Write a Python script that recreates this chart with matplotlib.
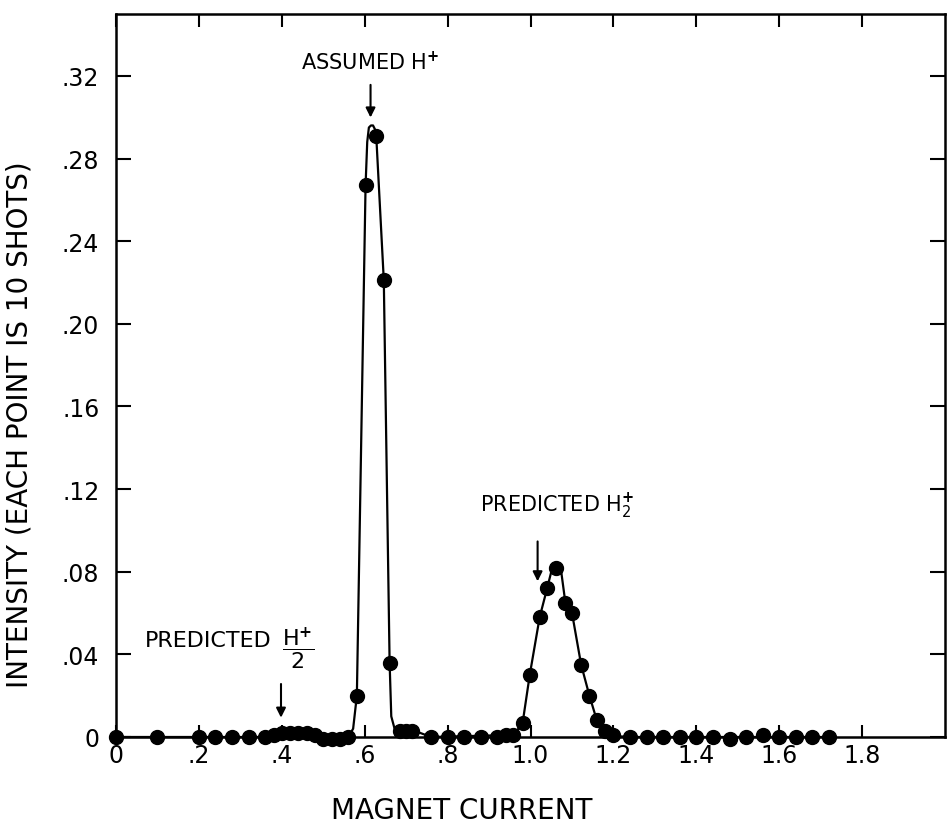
import matplotlib
matplotlib.use("Agg")
import matplotlib.pyplot as plt

# measured points (magnet current, intensity)
pts_x = [0.0, 0.10, 0.20, 0.24, 0.28, 0.32, 0.36, 0.38, 0.40, 0.42, 0.44, 0.46,
         0.48, 0.50, 0.52, 0.54, 0.56, 0.581, 0.602, 0.627, 0.646, 0.660,
         0.684, 0.700, 0.713, 0.76, 0.80, 0.84, 0.88, 0.92, 0.94, 0.957,
         0.981, 0.998, 1.022, 1.040, 1.062, 1.084, 1.100, 1.122, 1.142,
         1.160, 1.180, 1.198, 1.24, 1.28, 1.32, 1.36, 1.40, 1.44, 1.48,
         1.52, 1.56, 1.60, 1.64, 1.68, 1.72]
pts_y = [0.0, 0.0, 0.0, 0.0, 0.0, 0.0, 0.0, 0.001, 0.002, 0.002, 0.002, 0.002,
         0.001, -0.001, -0.001, -0.001, 0.0, 0.020, 0.267, 0.291, 0.221, 0.036,
         0.003, 0.003, 0.003, 0.0, 0.0, 0.0, 0.0, 0.0, 0.001, 0.001,
         0.007, 0.030, 0.058, 0.072, 0.082, 0.065, 0.060, 0.035, 0.020,
         0.008, 0.003, 0.001, 0.0, 0.0, 0.0, 0.0, 0.0, 0.0, -0.001,
         0.0, 0.001, 0.0, 0.0, 0.0, 0.0]

# hand drawn curve through the points
curve_x = [0.0, 0.36, 0.40, 0.48, 0.50, 0.56, 0.572, 0.581, 0.602, 0.606,
           0.610, 0.615, 0.620, 0.625, 0.628, 0.646, 0.660, 0.664, 0.672,
           0.72, 0.76, 0.96, 0.981, 0.998, 1.022, 1.040, 1.050, 1.058,
           1.068, 1.074, 1.084, 1.100, 1.122, 1.142, 1.160, 1.180, 1.200,
           1.24, 1.72]
curve_y = [0.0, 0.0, 0.002, 0.001, -0.001, 0.0, 0.004, 0.020, 0.267, 0.288,
           0.295, 0.296, 0.296, 0.294, 0.290, 0.221, 0.036, 0.010, 0.004,
           0.003, 0.0, 0.001, 0.007, 0.030, 0.058, 0.072, 0.080, 0.0825,
           0.0825, 0.080, 0.065, 0.060, 0.035, 0.020, 0.008, 0.003, 0.0005,
           0.0, 0.0]

x_ticks = [0.0, 0.2, 0.4, 0.6, 0.8, 1.0, 1.2, 1.4, 1.6, 1.8]
x_labels = ["0", ".2", ".4", ".6", ".8", "1.0", "1.2", "1.4", "1.6", "1.8"]
y_ticks = [0.0, 0.04, 0.08, 0.12, 0.16, 0.20, 0.24, 0.28, 0.32]
y_labels = ["0", ".04", ".08", ".12", ".16", ".20", ".24", ".28", ".32"]

plt.rcParams['font.family'] = ['DejaVu Sans']
plt.rcParams['mathtext.fontset'] = 'dejavusans'

fig = plt.figure(figsize=(9.47, 8.28), dpi=100)
ax = fig.add_axes([0.1225, 0.1087, 0.8755, 0.8733])

ax.plot(curve_x, curve_y, color='black', linewidth=1.6, clip_on=False)
ax.plot(pts_x, pts_y, 'o', color='black', markersize=10, clip_on=False, zorder=3)

ax.set_xlim(0, 2.0)
ax.set_ylim(0, 0.35)
ax.set_xticks(x_ticks)
ax.set_xticklabels(x_labels)
ax.set_yticks(y_ticks)
ax.set_yticklabels(y_labels)

for s in ax.spines.values():
    s.set_linewidth(1.8)

ax.tick_params(axis='x', direction='in', length=9, width=1.5, labelsize=17,
               pad=4, top=True)
ax.tick_params(axis='y', direction='in', length=11, width=1.5, labelsize=17,
               pad=12, right=True)

ax.set_xlabel("MAGNET CURRENT", fontsize=20)
ax.xaxis.set_label_coords(0.417, -0.081)
ax.set_ylabel("INTENSITY (EACH POINT IS 10 SHOTS)", fontsize=20)
ax.yaxis.set_label_coords(-0.099, 0.433)

# peak labels with arrows
arrow = dict(arrowstyle='-|>', color='black', lw=1.5, mutation_scale=14)
ax.text(0.613, 0.327, r"ASSUMED H$^{\mathbf{+}}$", fontsize=15, ha='center', va='center')
ax.annotate("", xy=(0.614, 0.2985), xytext=(0.614, 0.317), arrowprops=arrow)

ax.text(1.065, 0.112, r"PREDICTED H$_{2}^{\mathbf{+}}$", fontsize=15, ha='center', va='center')
ax.annotate("", xy=(1.017, 0.074), xytext=(1.017, 0.096), arrowprops=arrow)

ax.text(0.07, 0.047, "PREDICTED", fontsize=16, ha='left', va='center')
ax.text(0.44, 0.043, r"$\dfrac{\mathrm{H}^{\mathbf{+}}}{2}$", fontsize=16, ha='center', va='center')
ax.annotate("", xy=(0.398, 0.008), xytext=(0.398, 0.027), arrowprops=arrow)

fig.savefig("out.png", dpi=100)
